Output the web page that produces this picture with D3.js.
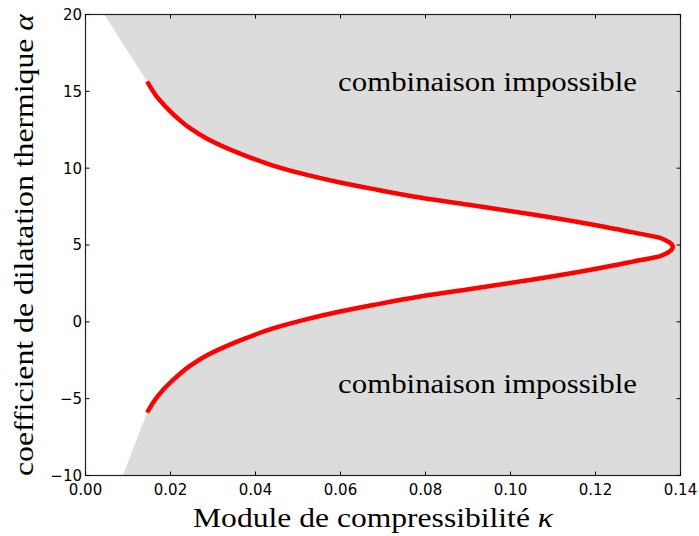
<!DOCTYPE html>
<html><head><meta charset="utf-8">
<script src="https://cdn.jsdelivr.net/npm/d3@7"></script>
<style>html,body{margin:0;padding:0;background:#fff;}</style>
</head><body>
<script>
// curve: [kappa, alpha], ordered along the path (upper end -> tip -> lower end)
const curveKappa = [0.0145,0.0170,0.0206,0.0245,0.0286,0.0364,0.0441,0.0521,0.0599,0.0676,0.0787,0.0898,0.1053,0.1211,0.1288,0.1352,0.1373,0.1382,0.1373,0.1352,0.1288,0.1211,0.1053,0.0898,0.0787,0.0676,0.0599,0.0521,0.0441,0.0364,0.0286,0.0245,0.0206,0.0170,0.0145];
const curveAlpha = [15.64,14.57,13.52,12.62,11.92,10.95,10.17,9.56,9.07,8.65,8.09,7.63,6.99,6.24,5.82,5.46,5.18,4.87,4.56,4.28,3.92,3.50,2.75,2.11,1.65,1.09,0.67,0.18,-0.43,-1.21,-2.18,-2.88,-3.78,-4.83,-5.90];
// gray region's outer corners on top / bottom edges
const edgeTop = [0.0044, 20];
const edgeBottom = [0.0088, -10];
const xTicks = [0,0.02,0.04,0.06,0.08,0.10,0.12,0.14];
const yTicks = [-10,-5,0,5,10,15,20];
const labels = [{text:"combinaison impossible", k:0.0946, a:15.0},{text:"combinaison impossible", k:0.0946, a:-4.6}];

const W=699,H=536;
const m={l:85.5,r:680.5,t:14.5,b:475.5};
const svg=d3.select("body").append("svg").attr("width",W).attr("height",H);
const x=d3.scaleLinear().domain([0,0.14]).range([m.l,m.r]);
const y=d3.scaleLinear().domain([-10,20]).range([m.b,m.t]);

svg.append("rect").attr("x",m.l).attr("y",m.t).attr("width",m.r-m.l).attr("height",m.b-m.t).attr("fill","#dcdcdc");

const pts=curveKappa.map((k,i)=>[k,curveAlpha[i]]);
const lineC=d3.line().x(d=>x(d[0])).y(d=>y(d[1])).curve(d3.curveMonotoneY);
const curvePath=lineC(pts);
svg.append("path")
  .attr("d","M"+x(0)+","+y(20)+"L"+x(edgeTop[0])+","+y(edgeTop[1])+"L"+curvePath.slice(1)+"L"+x(edgeBottom[0])+","+y(edgeBottom[1])+"L"+x(0)+","+y(-10)+"Z")
  .attr("fill","#fff");
svg.append("path").attr("d",curvePath).attr("fill","none").attr("stroke","#ff0000").attr("stroke-width",4.5);

// annotations
labels.forEach(l=>{
  svg.append("text").attr("x",x(l.k)).attr("y",y(l.a)).attr("text-anchor","middle")
    .attr("font-family","Liberation Serif").attr("font-size",27)
    .attr("textLength",299).attr("lengthAdjust","spacingAndGlyphs").text(l.text);
});

// spines
svg.append("rect").attr("x",m.l).attr("y",m.t).attr("width",m.r-m.l).attr("height",m.b-m.t).attr("fill","none").attr("stroke","#222").attr("stroke-width",1.2);
// ticks
const tl=4;
xTicks.forEach(t=>{
  svg.append("line").attr("x1",x(t)).attr("x2",x(t)).attr("y1",m.b).attr("y2",m.b-tl).attr("stroke","#000");
  svg.append("line").attr("x1",x(t)).attr("x2",x(t)).attr("y1",m.t).attr("y2",m.t+tl).attr("stroke","#000");
  svg.append("text").attr("x",x(t)).attr("y",495).attr("text-anchor","middle")
    .attr("font-family","DejaVu Sans").attr("font-size",15).text(d3.format(".2f")(t));
});
yTicks.forEach(t=>{
  svg.append("line").attr("y1",y(t)).attr("y2",y(t)).attr("x1",m.l).attr("x2",m.l+tl).attr("stroke","#000");
  svg.append("line").attr("y1",y(t)).attr("y2",y(t)).attr("x1",m.r).attr("x2",m.r-tl).attr("stroke","#000");
  svg.append("text").attr("x",82).attr("y",y(t)).attr("dy","0.36em").attr("text-anchor","end")
    .attr("font-family","DejaVu Sans").attr("font-size",15).text(String(t).replace("-","\u2212"));
});

// axis titles
const xt=svg.append("text").attr("x",373).attr("y",527).attr("text-anchor","middle")
  .attr("font-family","Liberation Serif").attr("font-size",27)
  .attr("textLength",360).attr("lengthAdjust","spacingAndGlyphs");
xt.append("tspan").text("Module de compressibilité ");
xt.append("tspan").attr("font-style","italic").text("κ");
const yt=svg.append("text").attr("transform","translate(33,245) rotate(-90)").attr("text-anchor","middle")
  .attr("font-family","Liberation Serif").attr("font-size",27)
  .attr("textLength",462).attr("lengthAdjust","spacingAndGlyphs");
yt.append("tspan").text("coefficient de dilatation thermique ");
yt.append("tspan").attr("font-style","italic").text("α");
</script>
</body></html>
